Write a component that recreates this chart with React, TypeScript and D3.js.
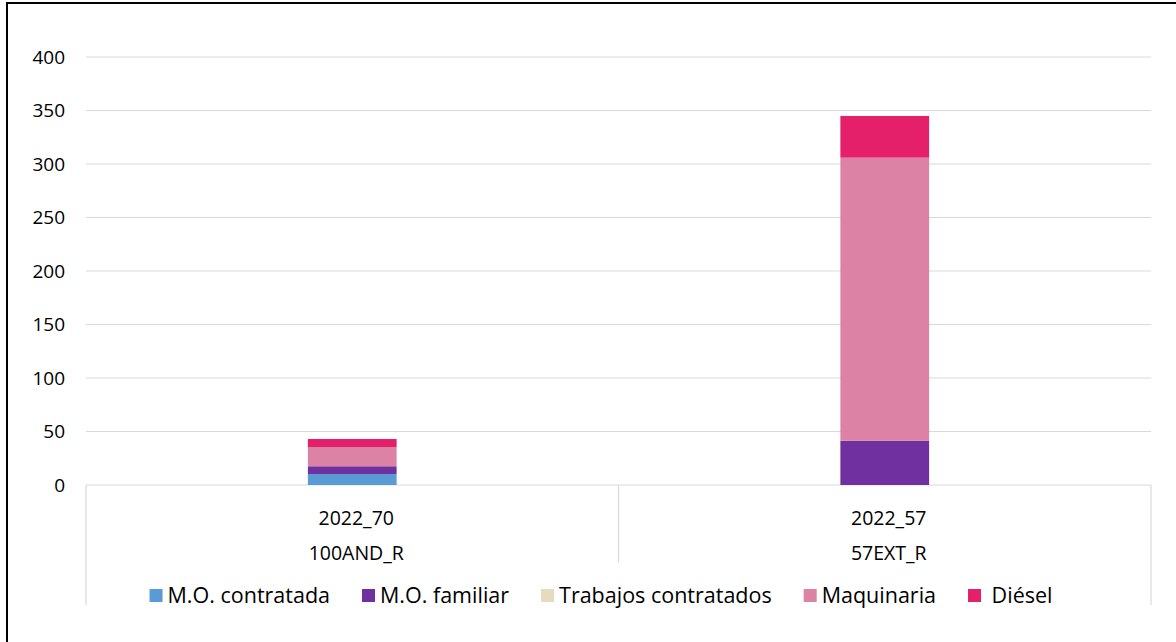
import React, { useMemo } from "react";
import * as d3 from "d3";

const innerCategories = ["2022_70", "2022_57"];
const outerCategories = ["100AND_R", "57EXT_R"];
const seriesNames = ["M.O. contratada", "M.O. familiar", "Trabajos contratados", "Maquinaria", " Diésel"];
const moContratada = [10.3, 0];
const moFamiliar = [7.2, 41.4];
const trabajosContratados = [0, 0];
const maquinaria = [18, 264.5];
const diesel = [7.5, 39];
const seriesColors = ["#5B9BD5", "#7030A0", "#E6DBBF", "#DC82A4", "#E5206A"];
const yTicks = [0, 50, 100, 150, 200, 250, 300, 350, 400];

const W = 1176;
const H = 642;
const FONT = "'Open Sans', sans-serif";

export default function App() {
  const seriesValues = [moContratada, moFamiliar, trabajosContratados, maquinaria, diesel];
  const left = 86, right = 1151, top = 57, bottom = 485;

  const x = d3.scaleBand<string>().domain(innerCategories).range([left, right]).paddingInner(0).paddingOuter(0);
  const y = d3.scaleLinear().domain([0, 400]).range([bottom, top]);
  const barW = x.bandwidth() / 6;

  const table = innerCategories.map((c, i) => {
    const row: any = { cat: c };
    seriesNames.forEach((s, k) => (row[s] = seriesValues[k][i]));
    return row;
  });
  const stacked = d3.stack<any>().keys(seriesNames)(table);

  const legendSize = 21.5;
  const legend = useMemo(() => {
    const canvas = document.createElement("canvas");
    const ctx = canvas.getContext("2d")!;
    ctx.font = `${legendSize}px ${FONT}`;
    const sq = 13, gapSq = 5, gapItem = 32;
    const widths = seriesNames.map((n) => ctx.measureText(n).width);
    const total = widths.reduce((a, w) => a + sq + gapSq + w, 0) + gapItem * (seriesNames.length - 1);
    let cx = 601 - total / 2;
    return seriesNames.map((n, i) => {
      const item = { name: n, x: cx, color: seriesColors[i] };
      cx += sq + gapSq + widths[i] + gapItem;
      return item;
    });
  }, []);

  return (
    <svg width={W} height={H} style={{ position: "absolute", left: 0, top: 0, background: "#fff" }}>
      <rect x={7} y={3} width={W} height={H} fill="#fff" stroke="#000" strokeWidth={2} />
      {yTicks.map((t) => (
        <g key={t}>
          <line x1={left} x2={right} y1={y(t)} y2={y(t)} stroke="#D9D9D9" strokeWidth={1.2} />
          <text x={65} y={y(t)} dy="0.35em" textAnchor="end" fontFamily={FONT} fontSize={19} fill="#000">
            {t}
          </text>
        </g>
      ))}
      <line x1={left} x2={left} y1={bottom} y2={605} stroke="#D9D9D9" strokeWidth={1.2} />
      <line x1={right} x2={right} y1={bottom} y2={605} stroke="#D9D9D9" strokeWidth={1.2} />
      {innerCategories.slice(1).map((c) => (
        <line key={c} x1={x(c)!} x2={x(c)!} y1={bottom} y2={563} stroke="#D9D9D9" strokeWidth={1.2} />
      ))}
      {stacked.map((s, k) => (
        <g key={s.key} fill={seriesColors[k]}>
          {s.map((d, i) => {
            const h = y(d[0]) - y(d[1]);
            if (h <= 0) return null;
            const cx = x(innerCategories[i])! + x.bandwidth() / 2;
            return <rect key={i} x={cx - barW / 2} y={y(d[1])} width={barW} height={h} />;
          })}
        </g>
      ))}
      {innerCategories.map((c, i) => {
        const cx = x(c)! + x.bandwidth() / 2 + 4;
        return (
          <g key={c} fontFamily={FONT} fontSize={19.5} fill="#000" textAnchor="middle">
            <text x={cx} y={525}>{c}</text>
            <text x={cx} y={560}>{outerCategories[i]}</text>
          </g>
        );
      })}
      {legend.map((l) => (
        <g key={l.name}>
          <rect x={l.x} y={589} width={13} height={13} fill={l.color} />
          <text x={l.x + 18} y={603} fontFamily={FONT} fontSize={legendSize} fill="#000" style={{ whiteSpace: "pre" }}>
            {l.name}
          </text>
        </g>
      ))}
    </svg>
  );
}
